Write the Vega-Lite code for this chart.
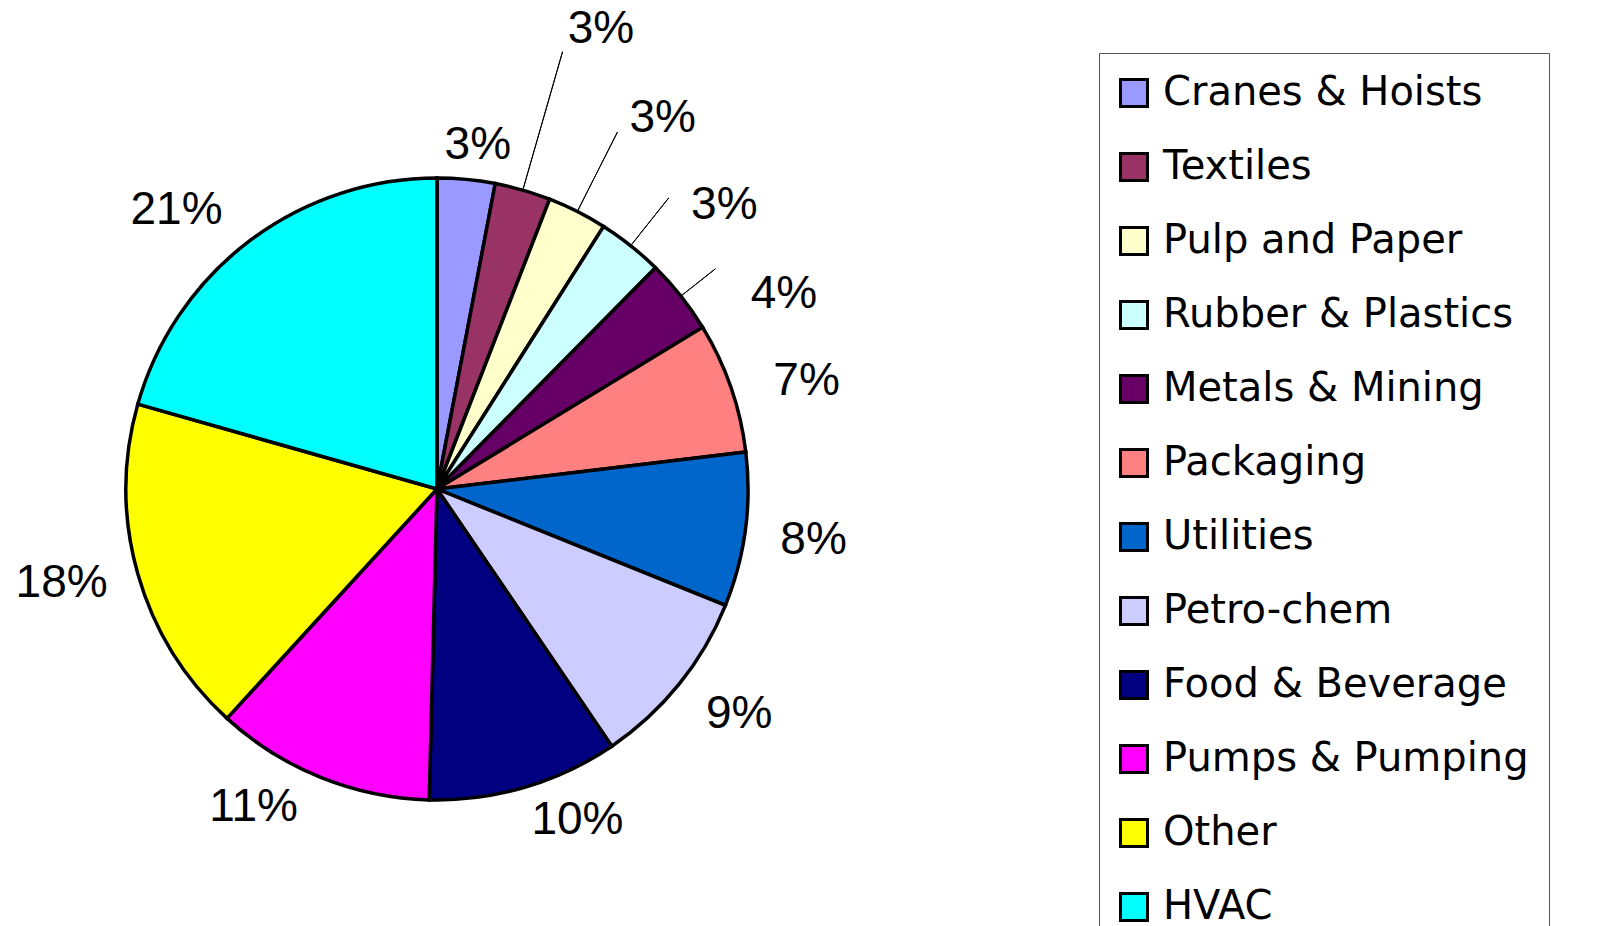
{
  "$schema": "https://vega.github.io/schema/vega-lite/v6.json",
  "width": 874,
  "height": 978,
  "autosize": {"type": "none"},
  "padding": {"left": 0, "top": 0, "right": 732, "bottom": 0},
  "background": "#ffffff",
  "config": {"view": {"stroke": null}},
  "data": {
    "values": [
      {"cat": "Cranes & Hoists", "share": 0.030, "idx": 1},
      {"cat": "Textiles", "share": 0.029, "idx": 2},
      {"cat": "Pulp and Paper", "share": 0.031, "idx": 3},
      {"cat": "Rubber & Plastics", "share": 0.034, "idx": 4},
      {"cat": "Metals & Mining", "share": 0.039, "idx": 5},
      {"cat": "Packaging", "share": 0.068, "idx": 6},
      {"cat": "Utilities", "share": 0.080, "idx": 7},
      {"cat": "Petro-chem", "share": 0.094, "idx": 8},
      {"cat": "Food & Beverage", "share": 0.099, "idx": 9},
      {"cat": "Pumps & Pumping", "share": 0.114, "idx": 10},
      {"cat": "Other", "share": 0.176, "idx": 11},
      {"cat": "HVAC", "share": 0.206, "idx": 12}
    ]
  },
  "encoding": {
    "theta": {"field": "share", "type": "quantitative", "stack": true},
    "order": {"field": "idx", "type": "quantitative"}
  },
  "layer": [
    {
      "mark": {"type": "arc", "radius": 311, "stroke": "#000000", "strokeWidth": 3.5, "opacity": 1},
      "encoding": {
        "color": {
          "field": "cat", "type": "nominal",
          "scale": {
            "domain": ["Cranes & Hoists", "Textiles", "Pulp and Paper", "Rubber & Plastics", "Metals & Mining", "Packaging", "Utilities", "Petro-chem", "Food & Beverage", "Pumps & Pumping", "Other", "HVAC"],
            "range": ["#9999FF", "#993366", "#FFFFCC", "#CCFFFF", "#660066", "#FF8080", "#0066CC", "#CCCCFF", "#000080", "#FF00FF", "#FFFF00", "#00FFFF"]
          },
          "legend": {
            "title": null, "orient": "none", "legendX": 1099, "legendY": 53,
            "symbolType": "square", "symbolSize": 729, "symbolStrokeColor": "#000000", "symbolStrokeWidth": 3, "symbolOpacity": 1, "symbolOffset": -5,
            "labelFont": "DejaVu Sans", "labelFontSize": 40, "labelColor": "#000000", "labelLimit": 0,
            "rowPadding": 34, "labelOffset": 9, "padding": 20,
            "strokeColor": "#555555", "fillColor": "#ffffff"
          }
        }
      }
    },
    {
      "mark": {"type": "arc", "radius": 455, "radius2": 311, "padAngle": 1, "fillOpacity": 0, "stroke": "#000000", "strokeWidth": 1},
      "encoding": {"strokeOpacity": {"condition": {"test": "datum.cat === 'Textiles'", "value": 1}, "value": 0}}
    },
    {
      "mark": {"type": "arc", "radius": 400, "radius2": 311, "padAngle": 1, "fillOpacity": 0, "stroke": "#000000", "strokeWidth": 1},
      "encoding": {"strokeOpacity": {"condition": {"test": "datum.cat === 'Pulp and Paper'", "value": 1}, "value": 0}}
    },
    {
      "mark": {"type": "arc", "radius": 372, "radius2": 311, "padAngle": 1, "fillOpacity": 0, "stroke": "#000000", "strokeWidth": 1},
      "encoding": {"strokeOpacity": {"condition": {"test": "datum.cat === 'Rubber & Plastics'", "value": 1}, "value": 0}}
    },
    {
      "mark": {"type": "arc", "radius": 355, "radius2": 311, "padAngle": 1, "fillOpacity": 0, "stroke": "#000000", "strokeWidth": 1},
      "encoding": {"strokeOpacity": {"condition": {"test": "datum.cat === 'Metals & Mining'", "value": 1}, "value": 0}}
    },
    {
      "mark": {"type": "text", "radius": 346, "thetaOffset": 0.024, "font": "Liberation Sans", "fontSize": 46, "color": "#000000", "align": "center", "baseline": "middle"},
      "encoding": {"text": {"field": "share", "type": "quantitative", "format": ".0%", "condition": {"test": "datum.cat !== 'Cranes & Hoists'", "value": ""}}}
    },
    {
      "mark": {"type": "text", "radius": 488, "thetaOffset": 0.063, "font": "Liberation Sans", "fontSize": 46, "color": "#000000", "align": "center", "baseline": "middle"},
      "encoding": {"text": {"field": "share", "type": "quantitative", "format": ".0%", "condition": {"test": "datum.cat !== 'Textiles'", "value": ""}}}
    },
    {
      "mark": {"type": "text", "radius": 434, "thetaOffset": 0.079, "font": "Liberation Sans", "fontSize": 46, "color": "#000000", "align": "center", "baseline": "middle"},
      "encoding": {"text": {"field": "share", "type": "quantitative", "format": ".0%", "condition": {"test": "datum.cat !== 'Pulp and Paper'", "value": ""}}}
    },
    {
      "mark": {"type": "text", "radius": 404, "thetaOffset": 0.119, "font": "Liberation Sans", "fontSize": 46, "color": "#000000", "align": "center", "baseline": "middle"},
      "encoding": {"text": {"field": "share", "type": "quantitative", "format": ".0%", "condition": {"test": "datum.cat !== 'Rubber & Plastics'", "value": ""}}}
    },
    {
      "mark": {"type": "text", "radius": 398, "thetaOffset": 0.157, "font": "Liberation Sans", "fontSize": 46, "color": "#000000", "align": "center", "baseline": "middle"},
      "encoding": {"text": {"field": "share", "type": "quantitative", "format": ".0%", "condition": {"test": "datum.cat !== 'Metals & Mining'", "value": ""}}}
    },
    {
      "mark": {"type": "text", "radius": 385, "thetaOffset": 0.049, "font": "Liberation Sans", "fontSize": 46, "color": "#000000", "align": "center", "baseline": "middle"},
      "encoding": {"text": {"field": "share", "type": "quantitative", "format": ".0%", "condition": {"test": "datum.cat !== 'Packaging'", "value": ""}}}
    },
    {
      "mark": {"type": "text", "radius": 380, "thetaOffset": 0.002, "font": "Liberation Sans", "fontSize": 46, "color": "#000000", "align": "center", "baseline": "middle"},
      "encoding": {"text": {"field": "share", "type": "quantitative", "format": ".0%", "condition": {"test": "datum.cat !== 'Utilities'", "value": ""}}}
    },
    {
      "mark": {"type": "text", "radius": 377, "thetaOffset": -0.038, "font": "Liberation Sans", "fontSize": 46, "color": "#000000", "align": "center", "baseline": "middle"},
      "encoding": {"text": {"field": "share", "type": "quantitative", "format": ".0%", "condition": {"test": "datum.cat !== 'Petro-chem'", "value": ""}}}
    },
    {
      "mark": {"type": "text", "radius": 360, "thetaOffset": -0.115, "font": "Liberation Sans", "fontSize": 46, "color": "#000000", "align": "center", "baseline": "middle"},
      "encoding": {"text": {"field": "share", "type": "quantitative", "format": ".0%", "condition": {"test": "datum.cat !== 'Food & Beverage'", "value": ""}}}
    },
    {
      "mark": {"type": "text", "radius": 367, "thetaOffset": 0.140, "font": "Liberation Sans", "fontSize": 46, "color": "#000000", "align": "center", "baseline": "middle"},
      "encoding": {"text": {"field": "share", "type": "quantitative", "format": ".0%", "condition": {"test": "datum.cat !== 'Pumps & Pumping'", "value": ""}}}
    },
    {
      "mark": {"type": "text", "radius": 387, "thetaOffset": 0.031, "font": "Liberation Sans", "fontSize": 46, "color": "#000000", "align": "center", "baseline": "middle"},
      "encoding": {"text": {"field": "share", "type": "quantitative", "format": ".0%", "condition": {"test": "datum.cat !== 'Other'", "value": ""}}}
    },
    {
      "mark": {"type": "text", "radius": 382, "thetaOffset": -0.103, "font": "Liberation Sans", "fontSize": 46, "color": "#000000", "align": "center", "baseline": "middle"},
      "encoding": {"text": {"field": "share", "type": "quantitative", "format": ".0%", "condition": {"test": "datum.cat !== 'HVAC'", "value": ""}}}
    }
  ]
}
